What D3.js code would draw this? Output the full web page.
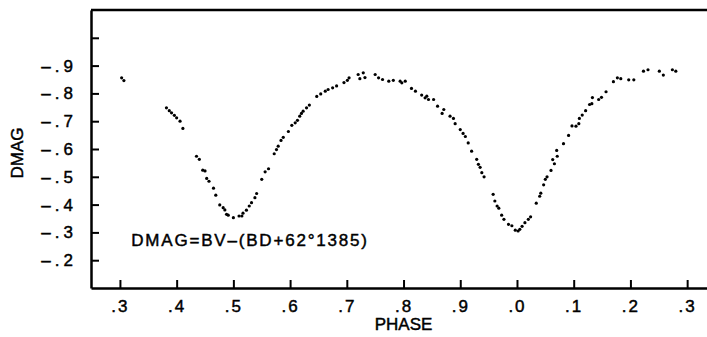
<!DOCTYPE html>
<html>
<head>
<meta charset="utf-8">
<script src="https://cdn.jsdelivr.net/npm/d3@7/dist/d3.min.js"></script>
<style>
  body { margin: 0; background: #fff; }
  svg { display: block; }
  .axis path, .axis line { stroke: #000; }
  .axis text { font-family: "Liberation Sans", Arial, sans-serif; fill: #000; }
  text { stroke: #000; stroke-width: 0.45px; }
</style>
</head>
<body>
<div id="chart"></div>
<script>

///////////// data ///////////////
let phase = [0.303, 0.307, 0.382, 0.387, 0.391, 0.396, 0.400, 0.406, 0.411, 0.435,
  0.440, 0.446, 0.450, 0.453, 0.457, 0.465, 0.469, 0.476, 0.482, 0.485,
  0.488, 0.491, 0.500, 0.510, 0.515, 0.517, 0.523, 0.528, 0.532, 0.538,
  0.541, 0.550, 0.556, 0.562, 0.572, 0.576, 0.579, 0.584, 0.588, 0.597,
  0.603, 0.609, 0.613, 0.617, 0.620, 0.623, 0.629, 0.634, 0.647, 0.654,
  0.662, 0.667, 0.675, 0.682, 0.695, 0.701, 0.704, 0.720, 0.723, 0.729,
  0.732, 0.750, 0.756, 0.763, 0.774, 0.782, 0.794, 0.797, 0.803, 0.814,
  0.821, 0.832, 0.838, 0.841, 0.844, 0.853, 0.860, 0.868, 0.871, 0.882,
  0.888, 0.891, 0.900, 0.905, 0.909, 0.914, 0.920, 0.929, 0.932, 0.935,
  0.938, 0.942, 0.958, 0.961, 0.965, 0.968, 0.973, 0.977, 0.985, 0.991,
  0.997, 1.002, 1.005, 1.009, 1.014, 1.020, 1.024, 1.034, 1.040, 1.042,
  1.047, 1.050, 1.053, 1.060, 1.063, 1.066, 1.071, 1.070, 1.082, 1.091,
  1.097, 1.104, 1.109, 1.110, 1.115, 1.121, 1.128, 1.132, 1.133, 1.144,
  1.149, 1.157, 1.170, 1.177, 1.183, 1.197, 1.206, 1.223, 1.231, 1.251,
  1.258, 1.274, 1.280];

let dmag = [-0.856, -0.846, -0.748, -0.738, -0.730, -0.721, -0.712, -0.700, -0.674, -0.574,
  -0.563, -0.524, -0.521, -0.494, -0.484, -0.459, -0.434, -0.399, -0.389, -0.381,
  -0.365, -0.362, -0.353, -0.359, -0.359, -0.369, -0.380, -0.395, -0.407, -0.425,
  -0.440, -0.491, -0.518, -0.529, -0.583, -0.598, -0.610, -0.631, -0.642, -0.663,
  -0.685, -0.694, -0.703, -0.718, -0.728, -0.736, -0.748, -0.758, -0.789, -0.798,
  -0.808, -0.814, -0.820, -0.827, -0.839, -0.847, -0.856, -0.868, -0.853, -0.874,
  -0.857, -0.868, -0.856, -0.850, -0.844, -0.847, -0.844, -0.838, -0.844, -0.818,
  -0.808, -0.794, -0.784, -0.790, -0.778, -0.778, -0.754, -0.728, -0.742, -0.718,
  -0.710, -0.691, -0.670, -0.656, -0.645, -0.622, -0.592, -0.563, -0.545, -0.534,
  -0.515, -0.500, -0.437, -0.413, -0.395, -0.387, -0.362, -0.347, -0.329, -0.324,
  -0.308, -0.305, -0.311, -0.322, -0.335, -0.347, -0.356, -0.405, -0.430, -0.441,
  -0.471, -0.491, -0.500, -0.523, -0.562, -0.547, -0.574, -0.595, -0.619, -0.649,
  -0.683, -0.682, -0.691, -0.710, -0.722, -0.738, -0.760, -0.763, -0.785, -0.778,
  -0.786, -0.806, -0.842, -0.856, -0.853, -0.849, -0.849, -0.880, -0.885, -0.880,
  -0.866, -0.885, -0.880];

let xTicks = [0.3, 0.4, 0.5, 0.6, 0.7, 0.8, 0.9, 1.0, 1.1, 1.2, 1.3];
let xTickLabels = [".3", ".4", ".5", ".6", ".7", ".8", ".9", ".0", ".1", ".2", ".3"];
let yTicks = [-1.0, -0.9, -0.8, -0.7, -0.6, -0.5, -0.4, -0.3, -0.2];
let yTickLabels = ["", "\u2013.9", "\u2013.8", "\u2013.7", "\u2013.6", "\u2013.5", "\u2013.4", "\u2013.3", "\u2013.2"];
let note = "DMAG=BV\u2013(BD+62\u00b01385)";

/////////////  D3   ////////////////////////
let w = 707;  // width
let h = 337;  // height
let padLeft = 91, padRight = 707, padTop = 10, padBottom = 288;

let svg = d3.select("#chart")
  .append("svg")
  .attr("width", w)
  .attr("height", h);

let xScale = d3.scaleLinear()
  .domain([0.249, 1.335])
  .range([padLeft, padRight]);

let yScale = d3.scaleLinear()
  .domain([-0.1, -1.1])
  .range([padBottom, padTop]);

// frame: top line only, right side is open
svg.append("line")
  .attr("x1", padLeft).attr("x2", padRight)
  .attr("y1", padTop).attr("y2", padTop)
  .attr("stroke", "#000")
  .attr("stroke-width", 2.5);

let xAxis = d3.axisBottom(xScale)
  .tickValues(xTicks)
  .tickSize(-8)
  .tickSizeOuter(0)
  .tickPadding(12)
  .tickFormat(function(d, i) { return xTickLabels[i]; });

let yAxis = d3.axisLeft(yScale)
  .tickValues(yTicks)
  .tickSize(-8)
  .tickSizeOuter(0)
  .tickPadding(18)
  .tickFormat(function(d, i) { return yTickLabels[i]; });

let gx = svg.append("g")
  .attr("class", "axis")
  .attr("transform", "translate(0," + padBottom + ")")
  .call(xAxis);

let gy = svg.append("g")
  .attr("class", "axis")
  .attr("transform", "translate(" + padLeft + ",0)")
  .call(yAxis);

gx.select(".domain").attr("stroke-width", 2.5);
gy.select(".domain").attr("stroke-width", 2.5);
gx.selectAll(".tick line").attr("stroke-width", 2);
gy.selectAll(".tick line").attr("stroke-width", 2);

gx.selectAll("text")
  .attr("font-size", 17)
  .attr("letter-spacing", "2px");

gy.selectAll("text")
  .attr("font-size", 17)
  .attr("letter-spacing", "4px")
  .attr("dx", 4);

// points
svg.selectAll("circle")
  .data(phase)
  .enter()
  .append("circle")
  .attr("cx", function(d) { return xScale(d); })
  .attr("cy", function(d, i) { return yScale(dmag[i]); })
  .attr("r", 1.6)
  .attr("fill", "#000");

// axis titles
svg.append("text")
  .attr("x", xScale(0.8))
  .attr("y", 330)
  .attr("text-anchor", "middle")
  .attr("font-family", "Liberation Sans, Arial, sans-serif")
  .attr("font-size", 17)
  .text("PHASE");

svg.append("text")
  .attr("transform", "translate(23,153) rotate(-90)")
  .attr("text-anchor", "middle")
  .attr("font-family", "Liberation Sans, Arial, sans-serif")
  .attr("font-size", 17)
  .text("DMAG");

// annotation
svg.append("text")
  .attr("x", xScale(0.32))
  .attr("y", yScale(-0.3) + 14)
  .attr("font-family", "Liberation Sans, Arial, sans-serif")
  .attr("font-size", 17)
  .attr("letter-spacing", "1.8px")
  .text(note);

</script>
</body>
</html>
